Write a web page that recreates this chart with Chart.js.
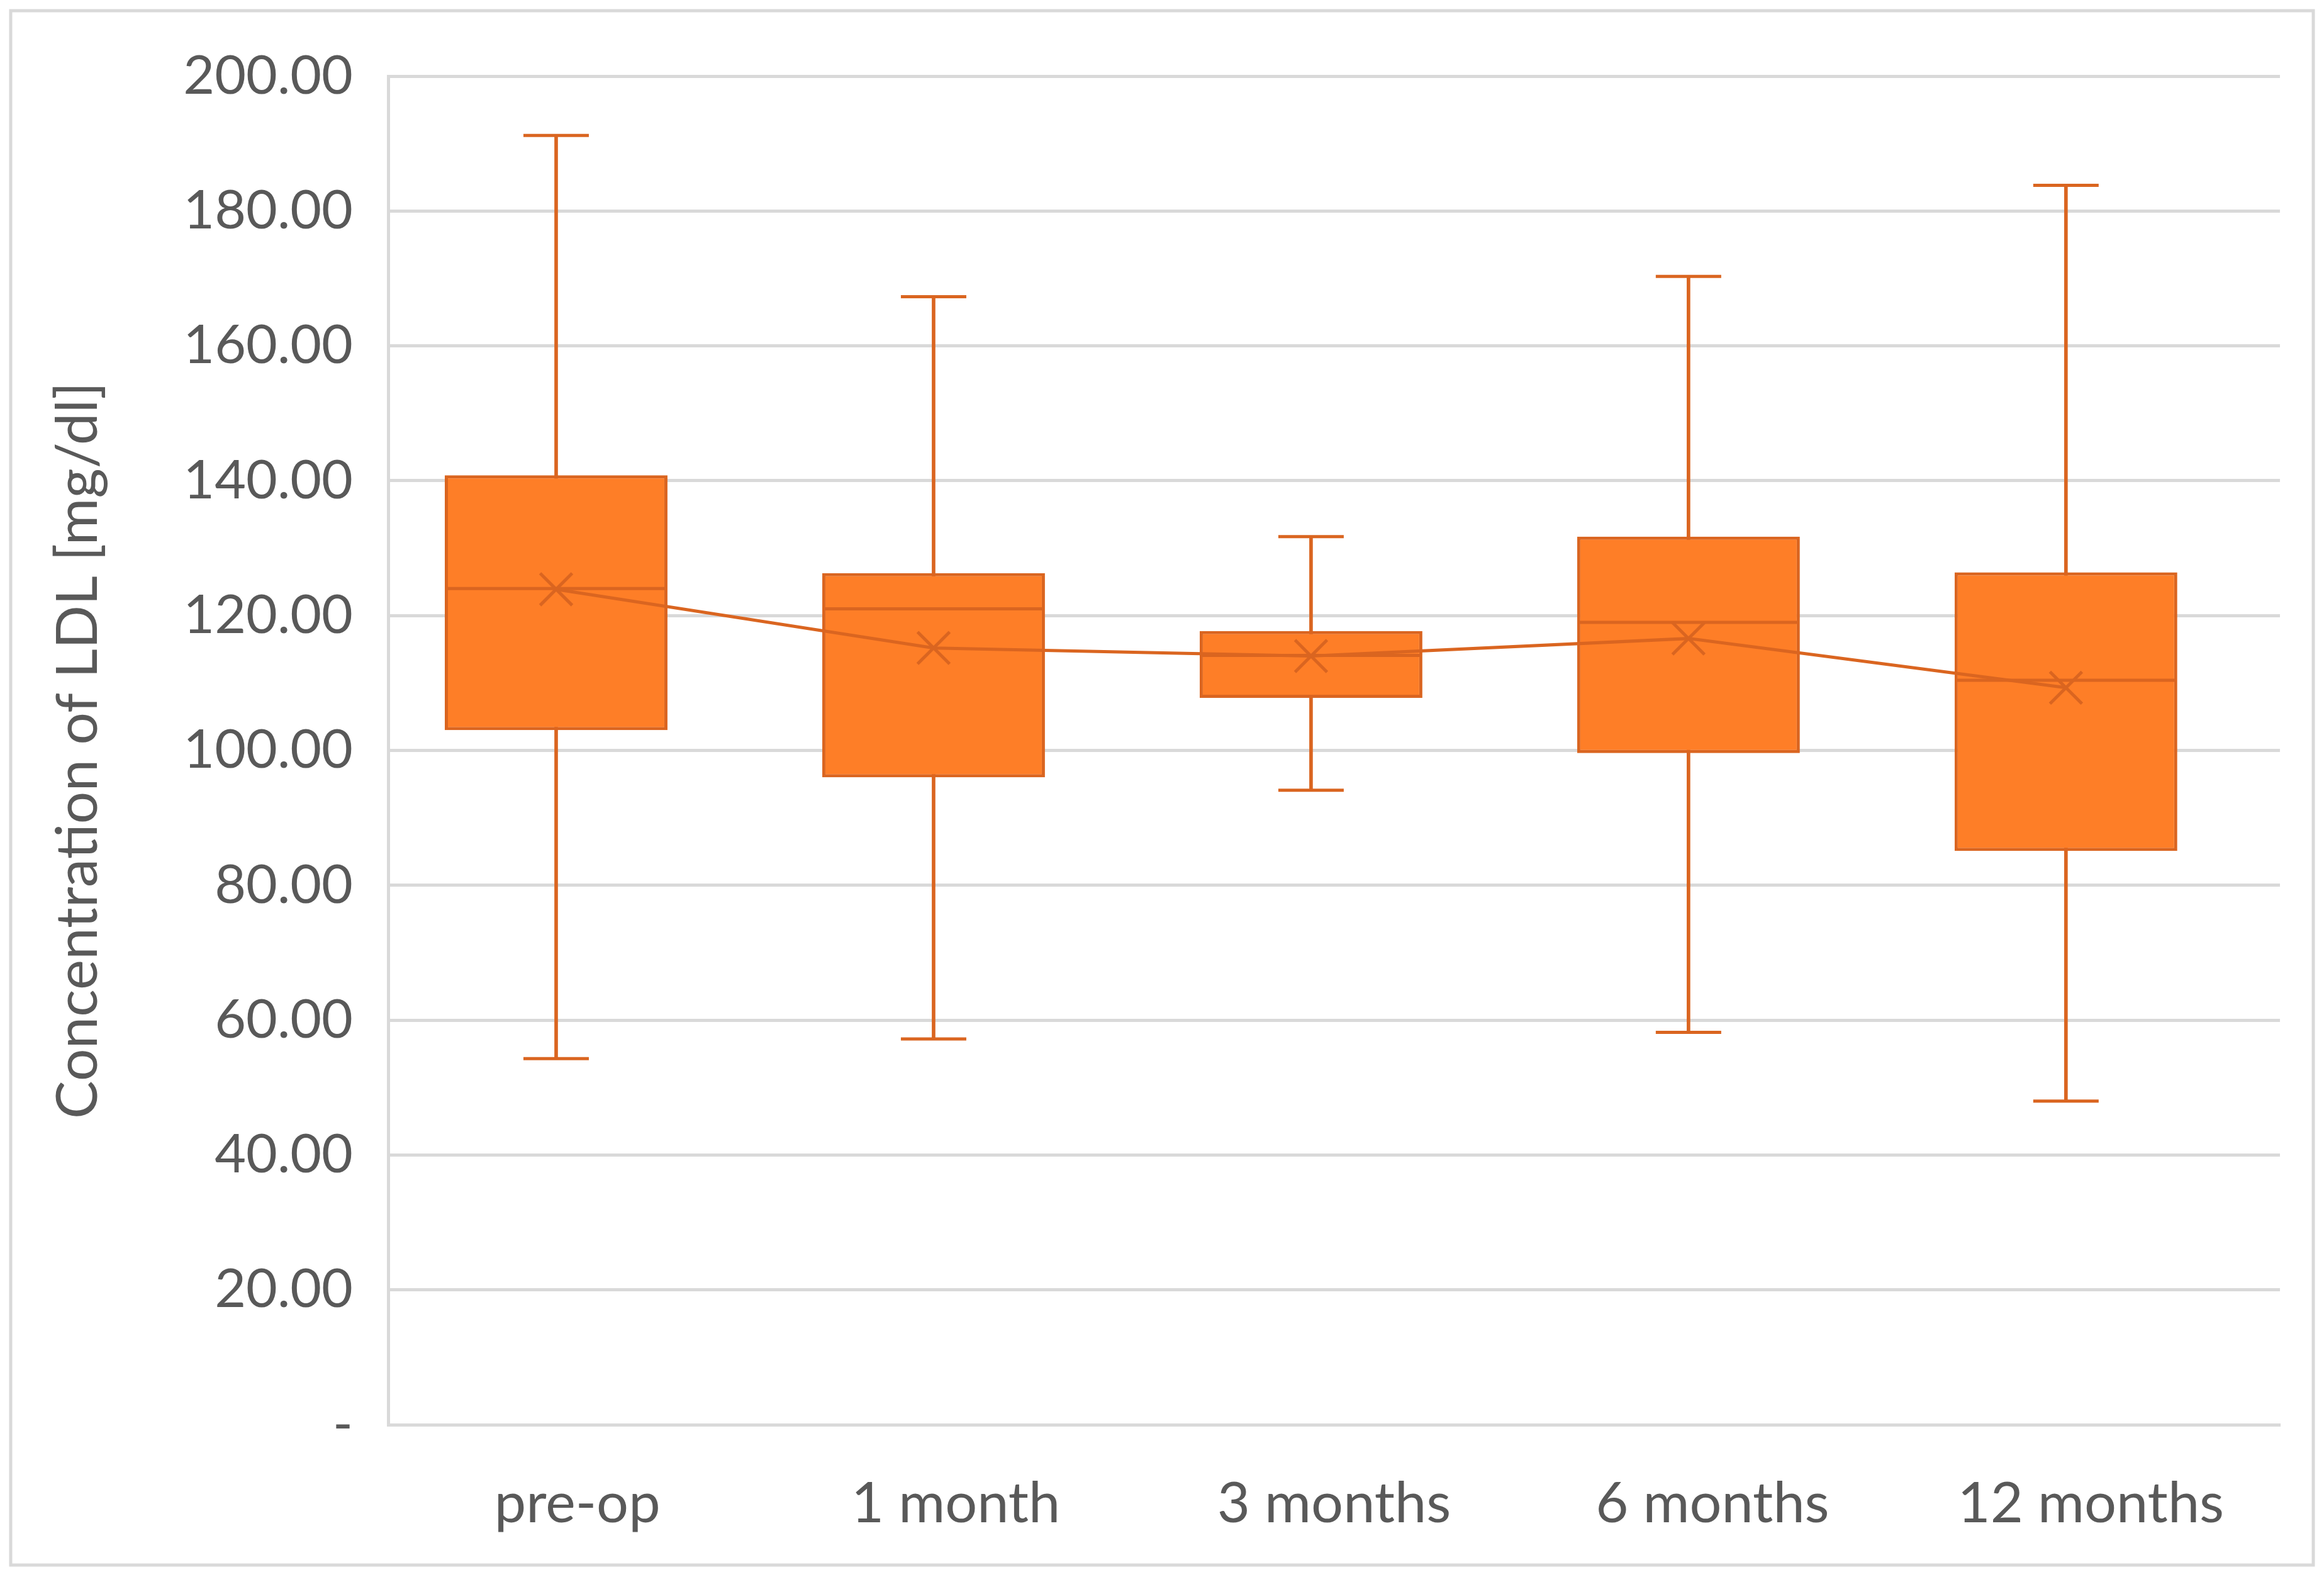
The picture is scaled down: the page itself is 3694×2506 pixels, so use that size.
<!DOCTYPE html>
<html>
<head>
<meta charset="utf-8">
<script src="https://cdn.jsdelivr.net/npm/chart.js@4/dist/chart.umd.min.js"></script>
<style>
	html, body { margin: 0; padding: 0; background: #ffffff; }
	canvas { display: block; }
</style>
</head>
<body>
<canvas id="ldlBoxChart" width="3694" height="2506"></canvas>
<script>
const categories = ["pre-op", "1 month", "3 months", "6 months", "12 months"];
const minValues = [54.3, 57.2, 94.1, 58.2, 48.0];
const q1Values = [103.0, 96.0, 107.8, 99.6, 85.1];
const medianValues = [124.0, 121.0, 114.1, 119.0, 110.4];
const meanValues = [123.9, 115.2, 114.0, 116.6, 109.3];
const q3Values = [140.8, 126.3, 117.7, 131.7, 126.4];
const maxValues = [191.2, 167.3, 131.7, 170.3, 183.8];
const yTicks = [0, 20, 40, 60, 80, 100, 120, 140, 160, 180, 200];

const fillColor = "#FE7E27";
const lineColor = "#DA6520";
const textColor = "#595959";
const gridColor = "#D9D9D9";
const fontFamily = "Lato";

// category index -> point objects, built from the arrays above
const toPoints = (values) => values.map((v, i) => ({ x: i, y: v }));
const whiskerRanges = categories.map((_, i) => ({ x: i, y: [minValues[i], maxValues[i]] }));
const boxRanges = categories.map((_, i) => ({ x: i, y: [q1Values[i], q3Values[i]] }));

const outerBorder = {
	id: "outerBorder",
	beforeDraw(chart) {
		const ctx = chart.ctx;
		ctx.save();
		ctx.fillStyle = "#ffffff";
		ctx.fillRect(0, 0, chart.width, chart.height);
		ctx.strokeStyle = gridColor;
		ctx.lineWidth = 5;
		ctx.strokeRect(17, 17, chart.width - 34, chart.height - 36);
		ctx.restore();
	},
};

const ctx = document.getElementById("ldlBoxChart").getContext("2d");

new Chart(ctx, {
	type: "bar",
	data: {
		datasets: [
			{
				label: "whisker",
				data: whiskerRanges,
				backgroundColor: lineColor,
				borderWidth: 0,
				barThickness: 5,
				grouped: false,
				order: 5,
			},
			{
				label: "box",
				data: boxRanges,
				backgroundColor: fillColor,
				borderColor: lineColor,
				borderWidth: 5,
				borderSkipped: false,
				barPercentage: 0.59,
				categoryPercentage: 1,
				grouped: false,
				order: 4,
			},
			{
				type: "line",
				label: "min cap",
				data: toPoints(minValues),
				showLine: false,
				pointStyle: "line",
				pointRadius: 52,
				pointBorderWidth: 5,
				pointBorderColor: lineColor,
				order: 3,
			},
			{
				type: "line",
				label: "max cap",
				data: toPoints(maxValues),
				showLine: false,
				pointStyle: "line",
				pointRadius: 52,
				pointBorderWidth: 5,
				pointBorderColor: lineColor,
				order: 3,
			},
			{
				type: "line",
				label: "median",
				data: toPoints(medianValues),
				showLine: false,
				pointStyle: "line",
				pointRadius: 174,
				pointBorderWidth: 5,
				pointBorderColor: lineColor,
				order: 2,
			},
			{
				type: "line",
				label: "mean",
				data: toPoints(meanValues),
				borderColor: lineColor,
				borderWidth: 5,
				tension: 0,
				fill: false,
				pointStyle: "crossRot",
				pointRadius: 36,
				pointBorderWidth: 5,
				pointBorderColor: lineColor,
				pointBackgroundColor: lineColor,
				order: 1,
			},
		],
	},
	options: {
		responsive: false,
		animation: false,
		layout: {
			autoPadding: false,
			padding: { top: 121, right: 70, bottom: 0, left: 0 },
		},
		plugins: {
			legend: { display: false },
			tooltip: { enabled: false },
		},
		scales: {
			x: {
				type: "linear",
				offset: false,
				min: -0.445,
				max: 4.567,
				weight: 0,
				afterBuildTicks(scale) {
					scale.ticks = categories.map((_, i) => ({ value: i }));
				},
				grid: { display: false, offset: false },
				border: { display: true, color: gridColor, width: 5 },
				ticks: { display: false },
				afterFit(scale) {
					scale.height = 0;
				},
			},
			xLabels: {
				type: "category",
				position: "bottom",
				labels: categories,
				offset: true,
				weight: 1,
				grid: { display: false },
				border: { display: false },
				ticks: {
					color: textColor,
					padding: 64,
					maxRotation: 0,
					autoSkip: false,
					font: { family: fontFamily, size: 90 },
				},
				afterFit(scale) {
					scale.height = 242;
				},
			},
			y: {
				min: 0,
				max: 200,
				afterBuildTicks(scale) {
					scale.ticks = yTicks.map((v) => ({ value: v }));
				},
				grid: {
					color: gridColor,
					lineWidth: 5,
					drawTicks: false,
				},
				border: { display: true, color: gridColor, width: 5 },
				ticks: {
					color: textColor,
					padding: 56,
					font: { family: fontFamily, size: 86 },
					callback: function (value) {
						return value === 0 ? "-" : value.toFixed(2);
					},
				},
				title: {
					display: true,
					text: "Concentration of LDL [mg/dl]",
					color: textColor,
					font: { family: fontFamily, size: 91 },
					padding: { top: 70, bottom: 0 },
				},
				afterFit(scale) {
					scale.width = 617;
				},
			},
		},
	},
	plugins: [outerBorder],
});
</script>
</body>
</html>
